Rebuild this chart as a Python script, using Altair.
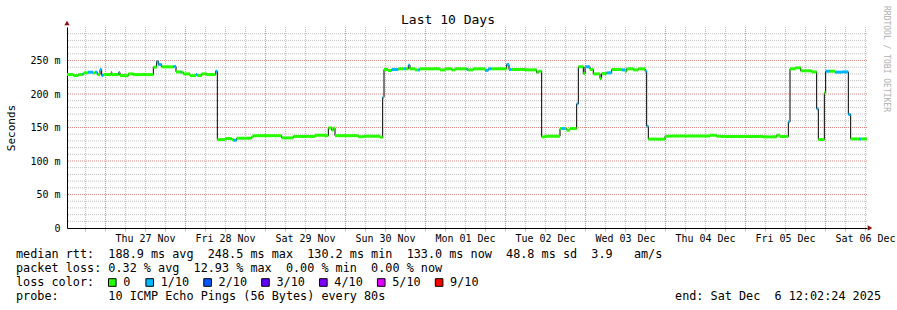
import json
import altair as alt
import pandas as pd

# ---------------- data ----------------
# hours after the left edge of the graph (10 days = 240 h)
hours = [0.0, 1.9, 3.4, 4.7, 5.1, 6.3, 7.8, 8.4, 9.1, 9.9, 10.4, 10.9, 13.2, 13.5, 15.5, 15.9,
         18.4, 19.9, 25.9, 26.9, 27.4, 28.4, 31.9, 32.7, 34.1, 34.5, 34.9, 36.9, 38.7, 39.1,
         40.4, 41.9, 44.6, 45.1, 47.4, 49.4, 49.9, 50.9, 55.4, 55.9, 64.4, 67.9, 74.4, 77.4,
         78.4, 79.4, 79.9, 80.4, 87.4, 88.9, 93.9, 94.7, 95.1, 96.3, 97.4, 99.4, 101.1, 101.7,
         102.4, 102.9, 104.4, 105.3, 105.8, 111.9, 113.4, 115.4, 116.4, 119.9, 120.4, 121.9,
         125.4, 126.4, 127.4, 131.9, 132.6, 133.4, 137.4, 140.9, 141.4, 142.4, 143.4, 147.9,
         148.4, 149.4, 149.9, 150.9, 152.9, 153.4, 154.9, 155.4, 156.9, 157.9, 159.9, 160.4,
         161.9, 163.4, 166.4, 167.4, 167.9, 169.9, 171.4, 173.4, 173.9, 174.4, 179.4, 181.4,
         192.9, 194.9, 196.4, 208.9, 212.9, 213.9, 216.4, 216.9, 218.4, 220.1, 223.4, 224.9,
         225.4, 227.2, 227.6, 228.9, 230.4, 232.4, 234.4, 235.1, 237.6, 238.2]
# median rtt in milliseconds
median_ms = [229, 227.5, 229, 230, 231.5, 232.5, 231.5, 232.5, 229, 236.5, 227.5, 229, 232, 229, 232, 227.5,
             230, 229, 240, 248.5, 244, 240.5, 241, 233, 232.5, 232.5, 230, 227.5, 229, 227.5,
             230, 229, 234, 132, 133.5, 132, 131, 134, 136, 137.8, 134.5, 136.7, 138.4, 137.8,
             149.5, 146, 149, 137.8, 136.3, 137, 135.5, 195, 236.6, 235, 236.6, 237.6, 237.6, 237.6,
             243, 237.6, 236, 236, 237.6, 236, 237.6, 236, 237.6, 236.5, 236, 237.6,
             235.3, 237.6, 237.6, 244, 236.6, 236.6, 236, 232, 234, 136, 137, 148.4,
             148.4, 148.4, 146, 148.4, 185.3, 240.6, 230.6, 240.6, 236.6, 230, 223, 230.5,
             231.6, 236.6, 236, 234, 237.6, 236, 237.6, 234, 151.9, 132.6, 137, 137.5,
             138.4, 137, 136.5, 136, 138.5, 136.5, 158.4, 237.6, 239, 234.6, 233, 177.8,
             132, 201.7, 234, 234, 232.6, 233, 169.4, 133, 133, 133]
# loss class (index into loss_labels)
loss = [0, 0, 0, 1, 0, 1, 0, 1, 0, 1, 1, 0, 1, 0, 1, 0,
        0, 0, 0, 1, 1, 0, 1, 0, 1, 0, 0, 0, 1, 0,
        0, 0, 1, 0, 0, 0, 1, 0, 0, 0, 0, 0, 0, 0,
        0, 0, 0, 0, 0, 0, 0, 1, 0, 0, 1, 0, 1, 0,
        1, 0, 0, 1, 0, 0, 0, 0, 0, 1, 0, 0,
        1, 1, 0, 1, 1, 0, 0, 0, 0, 0, 0, 0,
        1, 0, 0, 0, 1, 0, 0, 1, 0, 0, 0, 0,
        1, 0, 1, 0, 0, 0, 0, 1, 1, 0, 0, 0,
        0, 0, 0, 0, 0, 0, 1, 0, 0, 0, 0, 1,
        0, 0, 1, 0, 1, 1, 1, 0, 1, 0]

day_labels = ["Thu 27 Nov", "Fri 28 Nov", "Sat 29 Nov", "Sun 30 Nov", "Mon 01 Dec",
              "Tue 02 Dec", "Wed 03 Dec", "Thu 04 Dec", "Fri 05 Dec", "Sat 06 Dec"]
loss_labels = ["0", "1/10", "2/10", "3/10", "4/10", "5/10", "9/10"]
loss_colors = ["#26ff00", "#00b8ff", "#0059ff", "#5e00ff", "#7e00ff", "#dd00ff", "#ff0000"]

title_text = "Last 10 Days"
y_title = "Seconds"
stats_line1 = "median rtt:  188.9 ms avg  248.5 ms max  130.2 ms min  133.0 ms now  48.8 ms sd  3.9   am/s"
stats_line2 = "packet loss: 0.32 % avg  12.93 % max  0.00 % min  0.00 % now"
loss_caption = "loss color:"
probe_text = "probe:       10 ICMP Echo Pings (56 Bytes) every 80s"
end_text = "end: Sat Dec  6 12:02:24 2025"
watermark = "RRDTOOL / TOBI OETIKER"

# ---------------- build ----------------
MONO = "DejaVu Sans Mono"
MAJOR = "#e08a8a"
MINOR = "#c0c0c0"
SPAN = 240.0
FIRST_MIDNIGHT = 11.4
FIRST_NOON = 23.4


def nb(s):
    return s.replace(" ", "\u00a0")


df = pd.DataFrame({"t": hours, "v": median_ms, "loss": loss})
df["t_end"] = df["t"].shift(-1).fillna(SPAN)

# grid positions: every 6 h / 10 ms, majors every day / 50 ms
x_all = [round(FIRST_MIDNIGHT - 6 + 6 * i, 1) for i in range(40)]
x_major = [round(FIRST_MIDNIGHT + 24 * i, 1) for i in range(10)]
x_minor = [t for t in x_all if t not in x_major]
y_major = list(range(50, 300, 50))
y_minor = [v for v in range(10, 300, 10) if v % 50 != 0]
noons = [round(FIRST_NOON + 24 * i, 1) for i in range(10)]

label_map = json.dumps({str(n): lab for n, lab in zip(noons, day_labels)})
x_axis = alt.Axis(
    values=x_all, title=None, grid=False,
    ticks=True, tickSize=3, tickColor=MINOR, domain=True, domainColor="#000000", domainWidth=1,
    labelExpr=f"({label_map})[format(datum.value, '.1f')] || ''",
    labelFont=MONO, labelFontSize=10, labelColor="#000000", labelPadding=2,
    labelOverlap=False, labelFlush=False,
)
y_axis = alt.Axis(
    values=[0] + y_major, title=y_title, grid=False,
    ticks=False, domain=True, domainColor="#000000", domainWidth=1,
    labelExpr="datum.value == 0 ? '0' : datum.value + ' m'",
    labelFont=MONO, labelFontSize=10, labelColor="#000000", labelPadding=7,
    labelOverlap=False, labelFlush=False,
    titleFont=MONO, titleFontSize=11, titleFontWeight="normal", titleColor="#000000",
    titleX=-56, titleY=100.5, titleAngle=270, titleAlign="center", titleBaseline="middle",
)

x_scale = alt.Scale(domain=[0, SPAN], nice=False, zero=False)
y_scale = alt.Scale(domain=[0, 300], nice=False)
x_enc = alt.X("t:Q", scale=x_scale, axis=x_axis)
y_enc = alt.Y("v:Q", scale=y_scale, axis=y_axis)


def vgrid(values, color):
    return alt.Chart(pd.DataFrame({"t": values})).mark_rule(
        color=color, strokeWidth=1, strokeDash=[1, 1], xOffset=0.5).encode(x=x_enc)


def hgrid(values, color):
    return alt.Chart(pd.DataFrame({"v": values})).mark_rule(
        color=color, strokeWidth=1, strokeDash=[1, 1]).encode(y=y_enc)


grids = [vgrid(x_minor, MINOR), hgrid(y_minor, MINOR), vgrid(x_major, MAJOR), hgrid(y_major, MAJOR)]

line = alt.Chart(df).mark_line(interpolate="step-after", color="#000000", strokeWidth=1).encode(
    x=x_enc, y=y_enc)

segs = alt.Chart(df).mark_rule(strokeWidth=3, strokeCap="butt").encode(
    x=x_enc, x2="t_end:Q", y=y_enc,
    color=alt.Color("loss:O", scale=alt.Scale(domain=list(range(len(loss_colors))), range=loss_colors),
                    legend=None))

one = pd.DataFrame({"k": [0]})
arrow_y = alt.Chart(one).mark_point(shape="triangle-up", filled=True, color="#8b1010", size=28,
                                    opacity=1).encode(x=alt.value(0), y=alt.value(-4))
arrow_x = alt.Chart(one).mark_point(shape="triangle-right", filled=True, color="#8b1010", size=28,
                                    opacity=1).encode(x=alt.value(803), y=alt.value(201))


def text_layer(txt, x, y, size=11.8, align="left", color="#000000", angle=0):
    kw = dict(align=align, baseline="middle", font=MONO, fontSize=size, color=color)
    if angle:
        kw["angle"] = angle
    return alt.Chart(pd.DataFrame({"txt": [nb(txt)]})).mark_text(**kw).encode(
        x=alt.value(x), y=alt.value(y), text="txt:N")


title = text_layer(title_text, 381, -7.5, size=13, align="center")
wm = text_layer(watermark, 819, 32, size=8, align="center", color="#b0b0b0", angle=90)
row1 = text_layer(stats_line1, -51, 227.3)
row2 = text_layer(stats_line2, -51, 241.3)
row3 = text_layer(loss_caption, -51, 255.3)
row4 = text_layer(probe_text, -51, 269.3)
row4b = text_layer(end_text, 814, 269.3, align="right")

# loss colour legend, spaced by label length (rrdtool layout)
leg_x = []
pos = 41.3
for lab in loss_labels:
    leg_x.append(pos)
    pos += 30.6 + 6.82 * len(lab)
leg = pd.DataFrame({"label": loss_labels, "color": loss_colors, "sx": [p + 4 for p in leg_x],
                    "lx": [p + 15 for p in leg_x]})
squares = alt.Chart(leg).mark_square(size=58, stroke="#000000", strokeWidth=1, opacity=1).encode(
    x=alt.X("sx:Q", scale=None, axis=None), y=alt.value(255.5),
    fill=alt.Fill("color:N", scale=None))
sq_labels = alt.Chart(leg).mark_text(align="left", baseline="middle", font=MONO, fontSize=11.8,
                                     color="#000000").encode(
    x=alt.X("lx:Q", scale=None, axis=None), y=alt.value(255.3), text="label:N")

chart = alt.layer(
    *grids, line, segs, arrow_y, arrow_x, title, wm, row1, row2, row3, row4, row4b, squares, sq_labels
).properties(
    width=800, height=201,
    autosize=alt.AutoSizeParams(type="none"),
    padding={"left": 67, "top": 27, "right": 30, "bottom": 82},
    background="#ffffff",
).configure_view(strokeWidth=0)

chart.save("out.html", embed_options={"renderer": "svg", "actions": False})
